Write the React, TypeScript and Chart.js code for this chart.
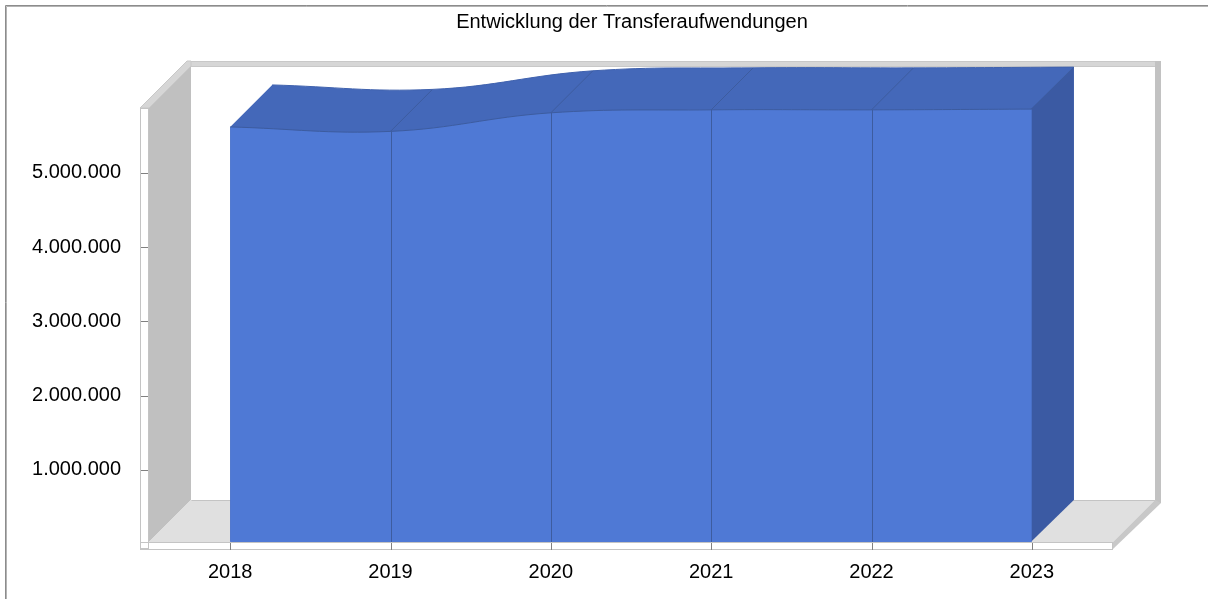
import React, { useEffect, useRef } from 'react';
import { Chart, registerables } from 'chart.js';

Chart.register(...registerables);

const chartTitle = 'Entwicklung der Transferaufwendungen';
const categories = ['2018', '2019', '2020', '2021', '2022', '2023'];
const values = [5620000, 5560000, 5810000, 5850000, 5850000, 5860000];
const yTickValues = [1000000, 2000000, 3000000, 4000000, 5000000];
const yMin = 0;
const yMax = 5875000;

const W = 1208;
const H = 599;
const DX = 42;
const DY = -42;
const FONT = '"Liberation Sans", Arial, sans-serif';

const COL_FRONT = '#4f79d5';
const COL_TOP = '#4468b9';
const COL_SIDE = '#3b5aa3';
const COL_LINE = '#3d5c9f';

function fmtDE(v: number): string {
  return String(Math.round(v)).replace(/\B(?=(\d{3})+(?!\d))/g, '.');
}

function curvePath(ctx: CanvasRenderingContext2D, pts: any[], ox: number, oy: number, start: boolean) {
  if (start) ctx.moveTo(pts[0].x + ox, pts[0].y + oy);
  else ctx.lineTo(pts[0].x + ox, pts[0].y + oy);
  for (let i = 1; i < pts.length; i++) {
    const a = pts[i - 1];
    const b = pts[i];
    ctx.bezierCurveTo(a.cp2x + ox, a.cp2y + oy, b.cp1x + ox, b.cp1y + oy, b.x + ox, b.y + oy);
  }
}

const box3d = {
  id: 'box3d',
  beforeDraw(chart: any) {
    const ctx: CanvasRenderingContext2D = chart.ctx;
    const ca = chart.chartArea;
    const L = ca.left, R = ca.right, T = ca.top, B = ca.bottom;
    const WL = L - 1;
    const FB = B - 2;
    const BL = WL + DX;
    const BR = R + 1 + DX;
    ctx.save();
    ctx.fillStyle = '#ffffff';
    ctx.fillRect(0, 0, W, H);
    // outer border
    ctx.strokeStyle = '#8c8c8c';
    ctx.lineWidth = 1;
    ctx.beginPath();
    ctx.moveTo(5.5, H);
    ctx.lineTo(5.5, 5.5);
    ctx.lineTo(W, 5.5);
    ctx.stroke();
    ctx.strokeStyle = '#b4b4b4';
    ctx.beginPath();
    ctx.moveTo(6.5, H);
    ctx.lineTo(6.5, 6.5);
    ctx.lineTo(W, 6.5);
    ctx.stroke();
    // title
    ctx.fillStyle = '#000000';
    ctx.font = '20px ' + FONT;
    ctx.textAlign = 'center';
    ctx.textBaseline = 'middle';
    ctx.fillText(chartTitle, 632, 22);

    // back wall
    ctx.fillStyle = '#ffffff';
    ctx.fillRect(BL, T + DY, BR - BL, FB - T);
    // left wall
    ctx.fillStyle = '#c0c0c0';
    ctx.beginPath();
    ctx.moveTo(WL, T);
    ctx.lineTo(BL, T + DY);
    ctx.lineTo(BL, FB + DY);
    ctx.lineTo(WL, FB);
    ctx.closePath();
    ctx.fill();
    // floor
    ctx.fillStyle = '#e0e0e0';
    ctx.beginPath();
    ctx.moveTo(WL, FB);
    ctx.lineTo(R + 1, FB);
    ctx.lineTo(BR, FB + DY);
    ctx.lineTo(BL, FB + DY);
    ctx.closePath();
    ctx.fill();
    ctx.strokeStyle = '#c4c4c4';
    ctx.beginPath();
    ctx.moveTo(BL + 0.5, FB + DY + 0.5);
    ctx.lineTo(BR, FB + DY + 0.5);
    ctx.stroke();
    // back top slab
    ctx.fillStyle = '#d6d6d6';
    ctx.fillRect(BL - 4, T + DY - 5, BR + 6 - (BL - 4), 5);
    ctx.strokeStyle = '#c8c8c8';
    ctx.strokeRect(BL - 4 + 0.5, T + DY - 5 + 0.5, BR + 6 - (BL - 4) - 1, 5);
    // right slab
    ctx.fillStyle = '#c2c2c2';
    ctx.fillRect(BR, T + DY - 5, 6, FB - T + 8);
    // left wall top slab (diagonal)
    ctx.fillStyle = '#d6d6d6';
    ctx.beginPath();
    ctx.moveTo(WL - 9, T);
    ctx.lineTo(WL - 9 + DX + 5, T + DY - 5);
    ctx.lineTo(BL, T + DY - 5);
    ctx.lineTo(BL, T + DY);
    ctx.lineTo(WL, T);
    ctx.closePath();
    ctx.fill();
    ctx.strokeStyle = '#c8c8c8';
    ctx.stroke();
    // floor right slab (diagonal)
    ctx.fillStyle = '#c8c8c8';
    ctx.beginPath();
    ctx.moveTo(R + 1, FB);
    ctx.lineTo(BR, FB + DY);
    ctx.lineTo(BR + 6, FB + DY + 3);
    ctx.lineTo(R + 1, FB + 7);
    ctx.closePath();
    ctx.fill();
    // left wall front slab
    ctx.fillStyle = '#ffffff';
    ctx.fillRect(WL - 9, T, 9, FB + 7 - T);
    ctx.strokeStyle = '#c4c4c4';
    ctx.strokeRect(WL - 9 + 0.5, T + 0.5, 8, FB + 7 - T - 1);
    ctx.restore();
  },
  beforeDatasetsDraw(chart: any) {
    const ctx: CanvasRenderingContext2D = chart.ctx;
    const meta = chart.getDatasetMeta(0);
    const pts = meta.data;
    if (!pts || !pts.length) return;
    const FB = chart.chartArea.bottom - 2;
    const p0 = pts[0];
    const pn = pts[pts.length - 1];
    ctx.save();
    // top face + left connecting face as one shape
    ctx.fillStyle = COL_TOP;
    ctx.beginPath();
    ctx.moveTo(p0.x, FB);
    ctx.lineTo(p0.x, p0.y);
    ctx.lineTo(p0.x + DX, p0.y + DY);
    curvePath(ctx, pts, DX, DY, false);
    ctx.lineTo(pn.x + DX, FB + DY);
    ctx.lineTo(p0.x + DX, FB + DY);
    ctx.closePath();
    ctx.fill();
    // back curve edge
    ctx.strokeStyle = '#4062ae';
    ctx.lineWidth = 1;
    ctx.beginPath();
    curvePath(ctx, pts, DX, DY, true);
    ctx.stroke();
    // right side face (slightly overlapping the front to avoid a seam)
    ctx.fillStyle = COL_SIDE;
    ctx.beginPath();
    ctx.moveTo(pn.x - 1, pn.y);
    ctx.lineTo(pn.x + DX, pn.y + DY);
    ctx.lineTo(pn.x + DX, FB + DY);
    ctx.lineTo(pn.x - 1, FB);
    ctx.closePath();
    ctx.fill();
    ctx.restore();
  },
  afterDatasetsDraw(chart: any) {
    const ctx: CanvasRenderingContext2D = chart.ctx;
    const ca = chart.chartArea;
    const meta = chart.getDatasetMeta(0);
    const pts = meta.data;
    const L = ca.left, R = ca.right, B = ca.bottom;
    const WL = L - 1;
    const FB = B - 2;
    ctx.save();
    ctx.strokeStyle = COL_LINE;
    ctx.lineWidth = 1;
    for (let i = 0; i < pts.length; i++) {
      const p = pts[i];
      const x = Math.round(p.x) + 0.5;
      ctx.beginPath();
      if (i > 0 && i < pts.length - 1) {
        ctx.moveTo(x, p.y);
        ctx.lineTo(x, FB);
      }
      if (i > 0) {
        ctx.moveTo(p.x, p.y);
        ctx.lineTo(p.x + DX, p.y + DY);
      }
      ctx.stroke();
    }
    // floor front slab
    ctx.fillStyle = '#ffffff';
    ctx.fillRect(WL, FB, R + 1 - WL, 7);
    ctx.strokeStyle = '#c4c4c4';
    ctx.strokeRect(WL - 9 + 0.5, FB + 0.5, R + 1 - WL + 9 - 1, 7);
    // x tick marks
    ctx.strokeStyle = '#808080';
    const xs = chart.scales.x;
    for (let i = 0; i < categories.length; i++) {
      const x = Math.round(xs.getPixelForValue(i)) + 0.5;
      ctx.beginPath();
      ctx.moveTo(x, FB + 1);
      ctx.lineTo(x, FB + 8);
      ctx.stroke();
    }
    // y tick marks
    const ys = chart.scales.y;
    for (const v of yTickValues) {
      const y = Math.round(ys.getPixelForValue(v)) + 0.5;
      ctx.beginPath();
      ctx.moveTo(WL - 8, y);
      ctx.lineTo(WL - 1, y);
      ctx.stroke();
    }
    ctx.restore();
  },
};

export default function App() {
  const ref = useRef<HTMLCanvasElement | null>(null);
  useEffect(() => {
    const canvas = ref.current;
    if (!canvas) return;
    const ctx = canvas.getContext('2d') as any;
    if (ctx) ctx.letterSpacing = '1px';
    const chart = new Chart(canvas, {
      type: 'line',
      data: {
        labels: categories,
        datasets: [
          {
            data: values,
            fill: 'origin',
            backgroundColor: COL_FRONT,
            borderColor: COL_LINE,
            borderWidth: 1,
            pointRadius: 0,
            tension: 0.4,
          },
        ],
      },
      options: {
        responsive: false,
        animation: false,
        devicePixelRatio: 1,
        layout: { padding: { left: 0, top: 108, right: 96, bottom: 0 } },
        plugins: {
          legend: { display: false },
          title: { display: false },
          tooltip: { enabled: false },
        },
        scales: {
          x: {
            type: 'category',
            offset: true,
            grid: { display: false, drawTicks: false },
            border: { display: false },
            ticks: {
              padding: 16,
              color: '#000000',
              font: { family: FONT, size: 20 },
              maxRotation: 0,
              autoSkip: false,
            },
            afterFit: (s: any) => {
              s.height = 55;
            },
          },
          y: {
            min: yMin,
            max: yMax,
            grid: { display: false, drawTicks: false },
            border: { display: false },
            ticks: {
              padding: 29,
              color: '#000000',
              font: { family: FONT, size: 20 },
              callback: (v: any) => fmtDE(Number(v)),
            },
            afterBuildTicks: (s: any) => {
              s.ticks = yTickValues.map((v) => ({ value: v }));
            },
            afterFit: (s: any) => {
              s.width = 150;
            },
          },
        },
      },
      plugins: [box3d],
    });
    return () => chart.destroy();
  }, []);
  return (
    <div style={{ position: 'fixed', left: 0, top: 0, width: W, height: H, background: '#fff' }}>
      <canvas ref={ref} width={W} height={H} style={{ display: 'block', width: W, height: H }} />
    </div>
  );
}
